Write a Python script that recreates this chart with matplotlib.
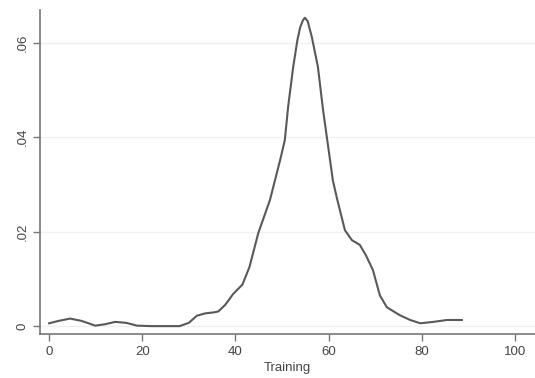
import matplotlib
matplotlib.use("Agg")
import matplotlib.pyplot as plt

# kernel density of training scores
training = [0, 2, 4.5, 7, 9.9, 12, 14.2, 16.5, 18.9, 22, 25, 28, 30, 31.7, 33.5,
            35.3, 36.3, 37.8, 39.5, 41.5, 43, 44.9, 47.4, 49.6, 50.6, 51.3,
            52.4, 53.3, 53.9, 54.5, 54.9, 55.5, 56.4, 57.7, 58.8, 60.3, 60.9,
            61.8, 63.5, 65.0, 66.7, 68.0, 69.5, 71.0, 72.5, 75.3, 77.5, 79.7,
            82.5, 85.4, 88.6]
density = [0.0006, 0.0011, 0.0016, 0.0011, 0.0001, 0.0004, 0.0009, 0.0007,
           0.0001, 0.0, 0.0, 0.0, 0.0007, 0.0022, 0.0027, 0.0029, 0.0031,
           0.0045, 0.0068, 0.0088, 0.0125, 0.0197, 0.0267, 0.0352, 0.0394,
           0.0464, 0.0549, 0.0606, 0.0633, 0.0648, 0.0653, 0.0646, 0.0612,
           0.0549, 0.0458, 0.0352, 0.0309, 0.0270, 0.0203, 0.0182, 0.0172,
           0.0150, 0.0119, 0.0065, 0.0040, 0.0023, 0.0013, 0.0006, 0.0009,
           0.0013, 0.0013]

xticks = [0, 20, 40, 60, 80, 100]
yticks = [0, 0.02, 0.04, 0.06]
ylabels = ["0", ".02", ".04", ".06"]

plt.rcParams['font.family'] = ['Liberation Sans', 'DejaVu Sans']

fig = plt.figure(figsize=(5.35, 3.78), dpi=100)
ax = fig.add_axes([0.075, 0.116, 0.925, 0.857])

ax.plot(training, density, color='#595959', lw=1.5, solid_joinstyle='round')

ax.set_xlim(-1.93, 104.3)
ax.set_ylim(-0.0017, 0.0669)
ax.set_xticks(xticks)
ax.set_yticks(yticks)
ax.set_yticklabels(ylabels, rotation=90, va='center')
ax.grid(axis='y', color='#f0f0f0', lw=1.0)
ax.set_axisbelow(True)

for s in ['top', 'right']:
    ax.spines[s].set_visible(False)
for s in ['left', 'bottom']:
    ax.spines[s].set_color('#777777')
    ax.spines[s].set_linewidth(1.2)
ax.tick_params(colors='#777777', labelcolor='#444444', length=5, width=1.0,
               labelsize=9.5)
ax.set_xlabel("Training", color='#444444', fontsize=9.5, labelpad=3)

fig.savefig("out.png", dpi=100)
